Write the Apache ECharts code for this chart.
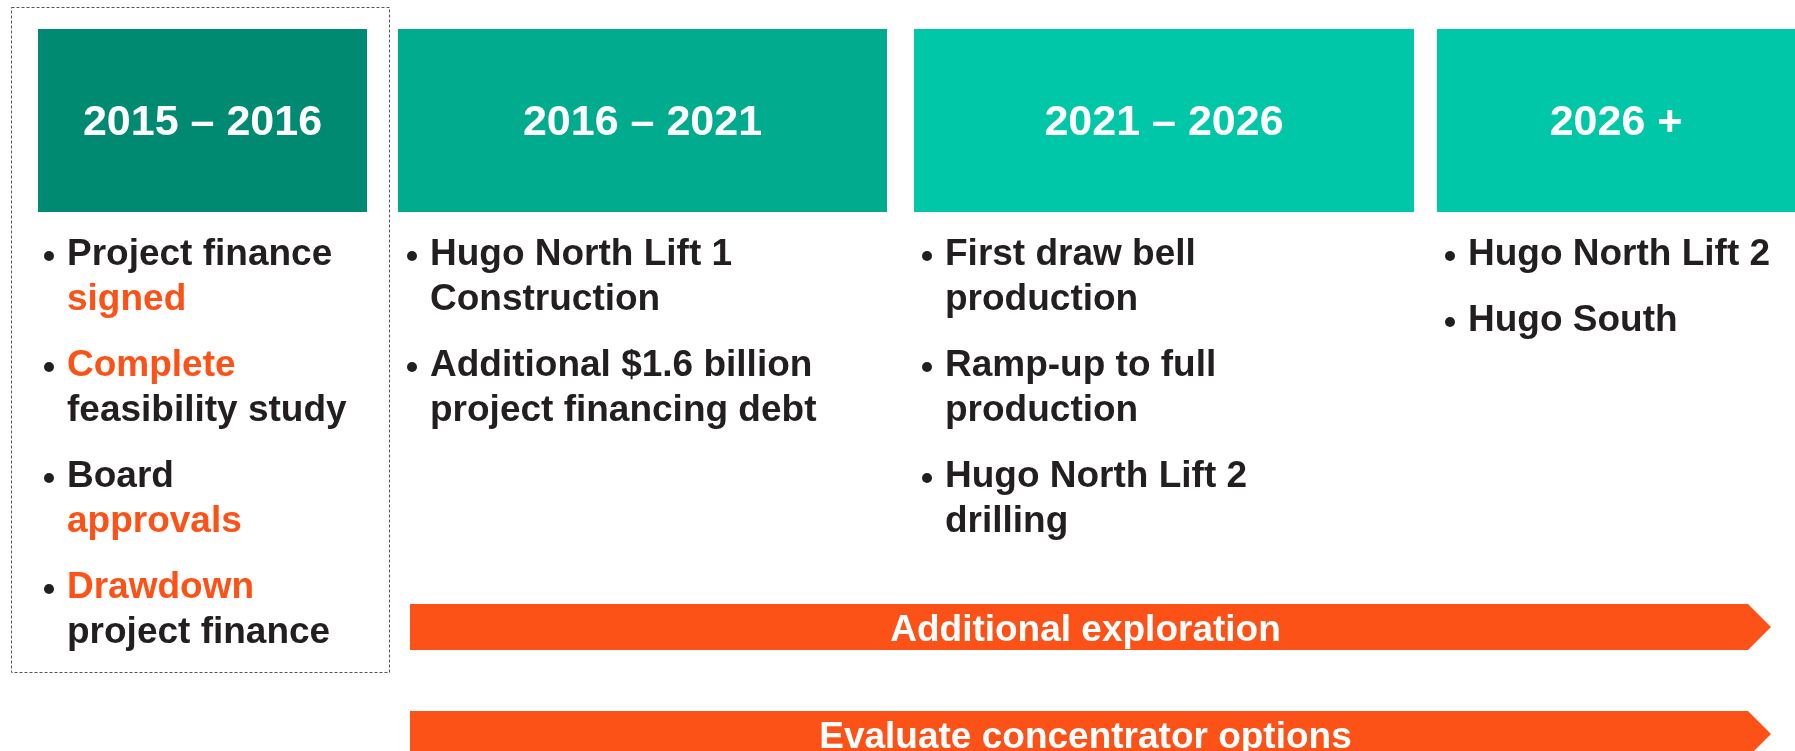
<!DOCTYPE html>
<html>
<head>
<meta charset="utf-8">
<script src="https://cdn.jsdelivr.net/npm/echarts@6/dist/echarts.min.js"></script>
<style>
  html, body { margin: 0; padding: 0; background: #fff; }
  #main { width: 1795px; height: 751px; }
</style>
</head>
<body>
<div id="main"></div>
<script>
// phases of the timeline
var phaseLabels = ['2015 – 2016', '2016 – 2021', '2021 – 2026', '2026 +'];

// bullets per phase, one entry per line; {o|...} marks the orange words
var phaseBullets = [
    [['Project finance', '{o|signed}'], ['{o|Complete}', 'feasibility study'], ['Board', '{o|approvals}'], ['{o|Drawdown}', 'project finance']],
    [['Hugo North Lift 1', 'Construction'], ['Additional $1.6 billion', 'project financing debt']],
    [['First draw bell', 'production'], ['Ramp-up to full', 'production'], ['Hugo North Lift 2', 'drilling']],
    [['Hugo North Lift 2'], ['Hugo South']]
];

// ongoing work streams (arrows)
var streamLabels = ['Additional exploration', 'Evaluate concentrator options'];

// layout and styles
var colLeft = [38, 398, 914, 1437];
var colRight = [367, 887, 1414, 1795];
var headColors = ['#008A72', '#00AB8E', '#00C7A8', '#00C7A8'];
var textInset = [29, 32, 31, 31];
var ORANGE = '#FD5217';
var DARK = '#231F20';
var FONT = '"Liberation Sans", Arial, Helvetica, sans-serif';

var myChart = echarts.init(document.getElementById('main'));
var elements = [];

// dashed frame round the first phase
elements.push({
    type: 'rect',
    shape: {x: 11.5, y: 7.5, width: 378, height: 665},
    style: {fill: null, stroke: '#555', lineWidth: 1, lineDash: [3, 2]}
});

phaseLabels.forEach(function (label, i) {
    var x0 = colLeft[i], x1 = colRight[i];
    elements.push({
        type: 'rect',
        shape: {x: x0, y: 29, width: x1 - x0, height: 183},
        style: {fill: headColors[i]}
    });
    elements.push({
        type: 'text',
        x: (x0 + x1) / 2, y: 123,
        style: {
            text: label, fill: '#fff', font: 'bold 43px ' + FONT,
            align: 'center', verticalAlign: 'middle'
        }
    });

    var tx = x0 + textInset[i];
    var lineY = 255;
    phaseBullets[i].forEach(function (lines) {
        elements.push({
            type: 'circle',
            shape: {cx: tx - 18, cy: lineY + 1, r: 5},
            style: {fill: DARK}
        });
        lines.forEach(function (line) {
            elements.push({
                type: 'text',
                x: tx, y: lineY,
                style: {
                    text: line, fill: DARK, font: 'bold 37px ' + FONT,
                    fontSize: 37, fontWeight: 'bold', fontFamily: FONT,
                    align: 'left', verticalAlign: 'middle',
                    rich: {o: {fill: ORANGE, fontSize: 37, fontWeight: 'bold', fontFamily: FONT}}
                }
            });
            lineY += 45;
        });
        lineY += 21;
    });
});

// arrows
streamLabels.forEach(function (label, i) {
    var top = 604 + i * 107, h = 46;
    var left = 410, bodyEnd = 1748, tip = 1771;
    elements.push({
        type: 'polygon',
        shape: {points: [[left, top], [bodyEnd, top], [tip, top + h / 2], [bodyEnd, top + h], [left, top + h]]},
        style: {fill: ORANGE}
    });
    elements.push({
        type: 'text',
        x: (left + tip) / 2 - 5, y: top + h / 2 + 4,
        style: {
            text: label, fill: '#fff', font: 'bold 37px ' + FONT,
            align: 'center', verticalAlign: 'middle'
        }
    });
});

var option = {
    backgroundColor: '#fff',
    animation: false,
    graphic: {elements: elements}
};
myChart.setOption(option);
</script>
</body>
</html>
